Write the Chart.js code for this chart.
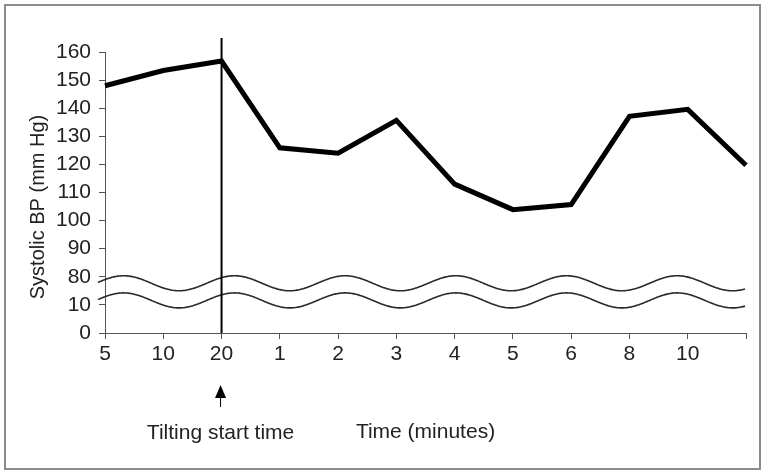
<!DOCTYPE html>
<html>
<head>
<meta charset="utf-8">
<script src="https://cdn.jsdelivr.net/npm/chart.js@4/dist/chart.umd.min.js"></script>
<style>
  html, body { margin: 0; padding: 0; background: #fff; }
  #wrap { width: 766px; height: 475px; position: relative; }
</style>
</head>
<body>
<div id="wrap"><canvas id="myChart" width="766" height="475"></canvas></div>
<script>
// time points (minutes before / after tilting), last tick has no label
const xLabels = ['5', '10', '20', '1', '2', '3', '4', '5', '6', '8', '10', ''];
// systolic BP in mm Hg
const systolicBP = [148, 153.4, 156.8, 125.9, 124, 135.7, 113, 103.9, 105.7, 137.1, 139.6, 119.7];
// broken y axis: 0, 10, then 80..160
const yTickLabels = ['0', '10', '80', '90', '100', '110', '120', '130', '140', '150', '160'];
const tiltIndex = 2;

const yTitle = 'Systolic BP (mm Hg)';
const xTitle = 'Time (minutes)';
const tiltText = 'Tilting start time';

// map a mm Hg value onto the broken axis (one unit per tick)
function toAxis(v) {
    if (v <= 10) return v / 10;
    return 2 + (v - 80) / 10;
}

const fontFamily = '"Liberation Sans", Arial, sans-serif';
const textColor = '#222';

const extras = {
    id: 'extras',
    beforeDraw(chart) {
        const ctx = chart.ctx;
        ctx.save();
        ctx.strokeStyle = '#8c8c8c';
        ctx.lineWidth = 2;
        ctx.strokeRect(5, 5, 755, 464);
        ctx.restore();
    },
    afterDatasetsDraw(chart) {
        const {ctx, chartArea, scales} = chart;
        const x = scales.x, y = scales.y;
        const x0 = x.getPixelForValue(0);
        const step = x.getPixelForValue(1) - x0;

        // axis break waves
        ctx.save();
        ctx.strokeStyle = '#2a2a2a';
        ctx.lineWidth = 1.6;
        [1.77, 1.16].forEach(function (c) {
            const cy = y.getPixelForValue(c);
            const amp = 7.5;
            ctx.beginPath();
            for (let px = x0 - 7; px <= chartArea.right - 1; px++) {
                const i = (px - x0) / step;
                const py = cy - amp * Math.cos(2 * Math.PI * (i - 0.32) / 1.9);
                if (px === x0 - 7) ctx.moveTo(px, py); else ctx.lineTo(px, py);
            }
            ctx.stroke();
        });

        // tilting marker line
        const tx = x.getPixelForValue(tiltIndex);
        ctx.strokeStyle = '#000';
        ctx.lineWidth = 2;
        ctx.beginPath();
        ctx.moveTo(tx, 38);
        ctx.lineTo(tx, chartArea.bottom);
        ctx.stroke();

        // arrow
        ctx.lineWidth = 1;
        ctx.beginPath();
        ctx.moveTo(tx - 1, 396);
        ctx.lineTo(tx - 1, 407);
        ctx.stroke();
        ctx.fillStyle = '#000';
        ctx.beginPath();
        ctx.moveTo(tx - 1, 385);
        ctx.lineTo(tx - 6.5, 398);
        ctx.lineTo(tx + 4.5, 398);
        ctx.closePath();
        ctx.fill();

        // texts
        ctx.fillStyle = textColor;
        ctx.textAlign = 'center';
        ctx.textBaseline = 'middle';
        ctx.font = '21px ' + fontFamily;
        ctx.fillText(tiltText, tx - 1, 433);

        ctx.font = '20px ' + fontFamily;
        ctx.translate(38, 207);
        ctx.rotate(-Math.PI / 2);
        ctx.fillText(yTitle, 0, 0);
        ctx.restore();
    }
};

const config = {
    type: 'line',
    data: {
        labels: xLabels,
        datasets: [{
            data: systolicBP.map(toAxis),
            borderColor: '#000',
            borderWidth: 5,
            borderJoinStyle: 'miter',
            pointRadius: 0,
            tension: 0,
            fill: false
        }]
    },
    options: {
        responsive: false,
        animation: false,
        layout: { padding: { left: 0, top: 52, right: 20, bottom: 0 } },
        plugins: {
            legend: { display: false },
            tooltip: { enabled: false }
        },
        scales: {
            x: {
                type: 'category',
                offset: false,
                afterFit: function (scale) { scale.height = 142; },
                grid: { drawOnChartArea: false, drawTicks: true, tickLength: 6, color: '#555' },
                border: { display: true, color: '#555', width: 1 },
                ticks: {
                    autoSkip: false, maxRotation: 0, padding: 3,
                    color: textColor,
                    font: { family: fontFamily, size: 21 }
                },
                title: {
                    display: true,
                    text: xTitle,
                    color: textColor,
                    font: { family: fontFamily, size: 21 },
                    padding: { top: 0, bottom: 30 }
                }
            },
            y: {
                type: 'linear',
                min: 0,
                max: 10,
                afterFit: function (scale) { scale.width = 105; },
                grid: { drawOnChartArea: false, drawTicks: true, tickLength: 6, color: '#555' },
                border: { display: true, color: '#555', width: 1 },
                ticks: {
                    stepSize: 1,
                    autoSkip: false,
                    padding: 8,
                    color: textColor,
                    font: { family: fontFamily, size: 21 },
                    callback: function (v) { return yTickLabels[v]; }
                }
            }
        }
    },
    plugins: [extras]
};

let myChart = document.getElementById('myChart');
new Chart(myChart, config);
</script>
</body>
</html>
